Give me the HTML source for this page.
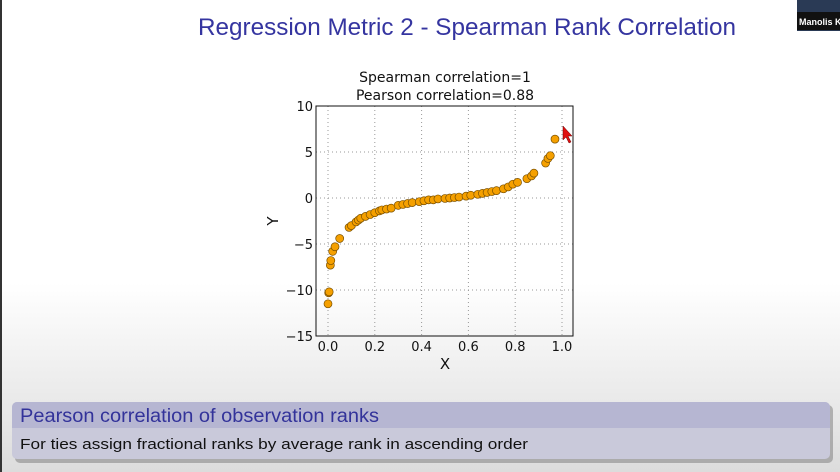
<!DOCTYPE html>
<html><head><meta charset="utf-8"><style>
html,body{margin:0;padding:0;width:840px;height:472px;overflow:hidden}
svg{display:block}
</style></head><body>
<svg id="s" width="840" height="472" xmlns="http://www.w3.org/2000/svg">
<defs>
<linearGradient id="bg" x1="0" y1="0" x2="0" y2="1">
<stop offset="0" stop-color="#ffffff"/><stop offset="0.6" stop-color="#ffffff"/><stop offset="1" stop-color="#dcdcdc"/>
</linearGradient>
</defs>
<rect width="840" height="472" fill="url(#bg)"/>
<rect x="0" y="0" width="2" height="472" fill="#333"/>
<text x="198" y="35" font-family="Liberation Sans, sans-serif" font-size="24" fill="#3535a0" textLength="538" lengthAdjust="spacingAndGlyphs">Regression Metric 2 - Spearman Rank Correlation</text>
<g>
<rect x="797" y="0" width="43" height="31" fill="#2a3a55"/>
<rect x="797" y="12" width="43" height="18" fill="#111"/>
<text x="799" y="25" font-family="Liberation Sans, sans-serif" font-size="9" font-weight="bold" fill="#fff">Manolis K</text>
</g>
<g id="chart">
<text x="445" y="82" text-anchor="middle" font-family="DejaVu Sans, sans-serif" font-size="14" fill="#111">Spearman correlation=1</text>
<text x="445" y="100" text-anchor="middle" font-family="DejaVu Sans, sans-serif" font-size="14" fill="#111">Pearson correlation=0.88</text>
<g id="grid"></g>
<g id="ticks"></g>
<g id="pts"></g>
<rect x="316" y="106" width="257" height="230" fill="none" stroke="#111" stroke-width="1"/>
<text x="445" y="369" text-anchor="middle" font-family="DejaVu Sans, sans-serif" font-size="15" fill="#111">X</text>
<text x="278" y="221" text-anchor="middle" font-family="DejaVu Sans, sans-serif" font-size="15" fill="#111" transform="rotate(-90 278 221)">Y</text>
</g>
<path d="M563 126 L563 140 L566 137 L569 143 L571 142 L568 136 L572 136 Z" fill="#e01010" stroke="#600" stroke-width="0.5"/>
<g>
<rect x="15" y="405" width="818" height="58" rx="5" fill="#777" opacity="0.5"/>
<rect x="12" y="402" width="818" height="57" rx="5" fill="#c9c9da"/>
<path d="M12 428 V407 a5 5 0 0 1 5 -5 H825 a5 5 0 0 1 5 5 V428 Z" fill="#b6b6d2"/>
<text x="20" y="422" font-family="Liberation Sans, sans-serif" font-size="19" fill="#33339a" textLength="359" lengthAdjust="spacingAndGlyphs">Pearson correlation of observation ranks</text>
<text x="20" y="449" font-family="Liberation Sans, sans-serif" font-size="15" fill="#111" textLength="508" lengthAdjust="spacingAndGlyphs">For ties assign fractional ranks by average rank in ascending order</text>
</g>
</svg>
<script>
const xVals=[0.0,0.003,0.005,0.01,0.012,0.02,0.03,0.05,0.09,0.1,0.12,0.13,0.14,0.16,0.18,0.2,0.22,0.23,0.25,0.27,0.3,0.32,0.34,0.36,0.39,0.41,0.43,0.45,0.47,0.5,0.52,0.54,0.56,0.59,0.61,0.64,0.66,0.68,0.7,0.72,0.75,0.77,0.79,0.81,0.85,0.87,0.88,0.93,0.94,0.95,0.97];
const yVals=[-11.5,-10.3,-10.2,-7.3,-6.8,-5.8,-5.3,-4.4,-3.2,-3.0,-2.6,-2.4,-2.2,-2.0,-1.8,-1.6,-1.4,-1.3,-1.2,-1.1,-0.8,-0.7,-0.6,-0.5,-0.4,-0.3,-0.2,-0.2,-0.1,-0.05,0,0.05,0.1,0.2,0.3,0.4,0.5,0.6,0.7,0.8,1.0,1.2,1.5,1.7,2.1,2.4,2.7,3.8,4.3,4.6,6.4];
const xTicks=[0,0.2,0.4,0.6,0.8,1.0];
const xTickLabels=["0.0","0.2","0.4","0.6","0.8","1.0"];
const yTicks=[10,5,0,-5,-10,-15];
const yTickLabels=["10","5","0","\u22125","\u221210","\u221215"];
const NS="http://www.w3.org/2000/svg";
const L=316,R=573,T=106,B=336;
function sx(v){return 328+(v-0)*(562-328);}
function sy(v){return T+(10-v)*(B-T)/25;}
const grid=document.getElementById('grid'),ticks=document.getElementById('ticks'),pts=document.getElementById('pts');
function mk(tag,at,parent){const e=document.createElementNS(NS,tag);for(const k in at)e.setAttribute(k,at[k]);parent.appendChild(e);return e;}
xTicks.forEach((v,i)=>{
 const x=sx(v);
 const g=mk('line',{x1:x,x2:x,y1:T,y2:B,stroke:'#999','stroke-dasharray':'1,3','stroke-width':1},grid);
 
 
 const t=mk('text',{x:x,y:B+15,'text-anchor':'middle','font-family':'DejaVu Sans, sans-serif','font-size':13,fill:'#111'},ticks);
 t.textContent=xTickLabels[i];
 
 
});
yTicks.forEach((v,i)=>{
 const y=sy(v);
 if(v<10&&v>-15){const g=mk('line',{x1:L,x2:R,y1:y,y2:y,stroke:'#999','stroke-dasharray':'1,3','stroke-width':1},grid);
 
 }
 const t=mk('text',{x:L-3,y:y+5,'text-anchor':'end','font-family':'DejaVu Sans, sans-serif','font-size':13,fill:'#111'},ticks);
 t.textContent=yTickLabels[i];
 
 
});
xVals.forEach((v,i)=>{
 const c=mk('circle',{cx:sx(v),cy:sy(yVals[i]),r:4,fill:'#f5a000',stroke:'#7a5000','stroke-width':0.7},pts);
 
 
});
</script>
</body></html>
